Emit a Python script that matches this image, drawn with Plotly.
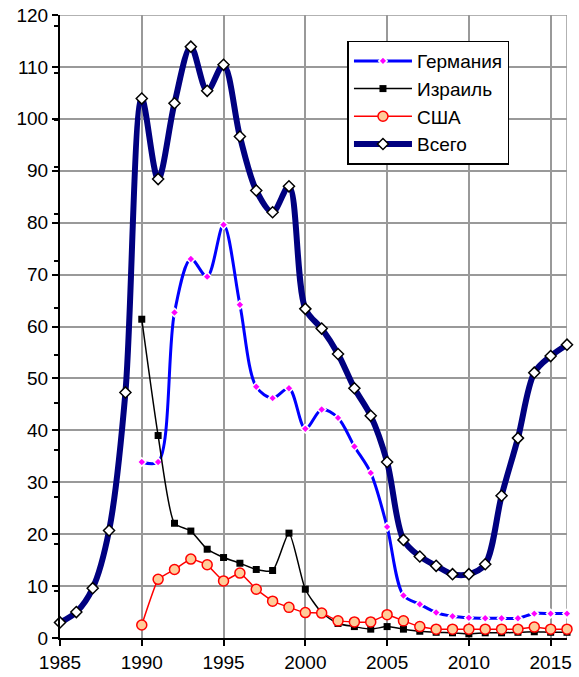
import plotly.graph_objects as go

years_total = list(range(1985, 2017))
total = [3.0, 5.0, 9.6, 20.7, 47.3, 103.9, 88.4, 103.0, 113.9, 105.4, 110.4,
         96.6, 86.2, 82.0, 87.0, 63.4, 59.6, 54.7, 48.1, 42.8, 33.9,
         18.9, 15.7, 13.9, 12.3, 12.3, 14.2, 27.4, 38.5, 51.1, 54.3, 56.5]

years_90 = list(range(1990, 2017))
germany = [33.9, 33.9, 62.7, 73.0, 69.6, 79.6, 64.2, 48.4, 46.2, 48.1,
           40.3, 44.0, 42.4, 36.9, 31.8, 21.4, 8.2, 6.5, 4.9, 4.2,
           3.9, 3.8, 3.8, 3.8, 4.7, 4.7, 4.7]
israel = [61.4, 39.0, 22.1, 20.6, 17.1, 15.5, 14.4, 13.2, 13.0, 20.2,
          9.4, 4.9, 2.8, 2.2, 1.7, 2.2, 1.7, 1.3, 1.1, 1.0,
          0.8, 1.0, 1.0, 1.1, 1.2, 1.1, 1.1]
usa = [2.5, 11.3, 13.2, 15.2, 14.1, 11.0, 12.5, 9.4, 7.1, 5.9,
       4.9, 4.8, 3.3, 3.1, 3.1, 4.5, 3.3, 2.2, 1.7, 1.7,
       1.7, 1.7, 1.7, 1.7, 2.1, 1.7, 1.7]

names = ["Германия", "Израиль", "США", "Всего"]
x_ticks = [1985, 1990, 1995, 2000, 2005, 2010, 2015]
y_ticks = list(range(0, 121, 10))

fig = go.Figure()
fig.add_trace(go.Scatter(
    x=years_90, y=germany, name=names[0], mode="lines+markers",
    line=dict(color="#0000FF", width=3, shape="spline", smoothing=0.9),
    marker=dict(symbol="diamond", size=6.5, color="#FF00FF",
                line=dict(color="white", width=1.5)),
    legendgroup="g1", cliponaxis=False))
fig.add_trace(go.Scatter(
    x=years_90, y=israel, name=names[1], mode="lines+markers",
    line=dict(color="black", width=1.5, shape="spline", smoothing=0.6),
    marker=dict(symbol="square", size=7, color="black"),
    legendgroup="g2", cliponaxis=False))
fig.add_trace(go.Scatter(
    x=years_90, y=usa, name=names[2], mode="lines+markers",
    line=dict(color="#FF0000", width=1.5, shape="spline", smoothing=0.3),
    marker=dict(symbol="circle", size=10, color="#FFCC99",
                line=dict(color="#FF0000", width=1.5)),
    legendgroup="g3", cliponaxis=False))
fig.add_trace(go.Scatter(
    x=years_total, y=total, name=names[3], mode="lines+markers",
    line=dict(color="#000080", width=6, shape="spline", smoothing=0.9),
    marker=dict(symbol="diamond", size=8.5, color="white",
                line=dict(color="black", width=1.5)),
    legendgroup="g4", cliponaxis=False))

fig.update_layout(
    width=579, height=677, autosize=False,
    margin=dict(l=60, r=12, t=15, b=39, pad=0, autoexpand=False),
    paper_bgcolor="white", plot_bgcolor="white",
    font=dict(family="Liberation Sans, Arial, sans-serif", size=19, color="black"),
    showlegend=True,
    legend=dict(x=0.567, y=0.959, xanchor="left", yanchor="top",
                bgcolor="white", bordercolor="black", borderwidth=1.5,
                font=dict(size=19), tracegroupgap=0, itemwidth=58),
)
fig.update_xaxes(
    range=[1985, 2016], tickmode="array", tickvals=x_ticks,
    ticktext=[str(v) for v in x_ticks], automargin=False,
    showgrid=True, gridcolor="#999999", gridwidth=1.5,
    showline=True, linecolor="black", linewidth=2,
    ticks="outside", ticklen=6, tickwidth=1.5, tickcolor="black",
    zeroline=False, tickfont=dict(size=19))
fig.update_yaxes(
    range=[0, 120], tickmode="array", tickvals=y_ticks, automargin=False,
    showgrid=True, gridcolor="#999999", gridwidth=1.5,
    showline=True, linecolor="black", linewidth=2,
    ticks="outside", ticklen=6, tickwidth=1.5, tickcolor="black",
    minor=dict(dtick=9.07, tick0=0, ticks="outside", ticklen=4,
               tickcolor="black", tickwidth=1.5, showgrid=False),
    zeroline=False, tickfont=dict(size=19))

fig.add_shape(type="line", xref="x", yref="paper", x0=2016, x1=2016, y0=0, y1=1,
              line=dict(color="#999999", width=1.5), layer="below")
fig.add_shape(type="line", xref="paper", yref="y", x0=0, x1=1, y0=120, y1=120,
              line=dict(color="#999999", width=1.5), layer="below")

fig.write_html("out.html", config={"displayModeBar": False},
               post_script="document.body.style.margin='0';")
